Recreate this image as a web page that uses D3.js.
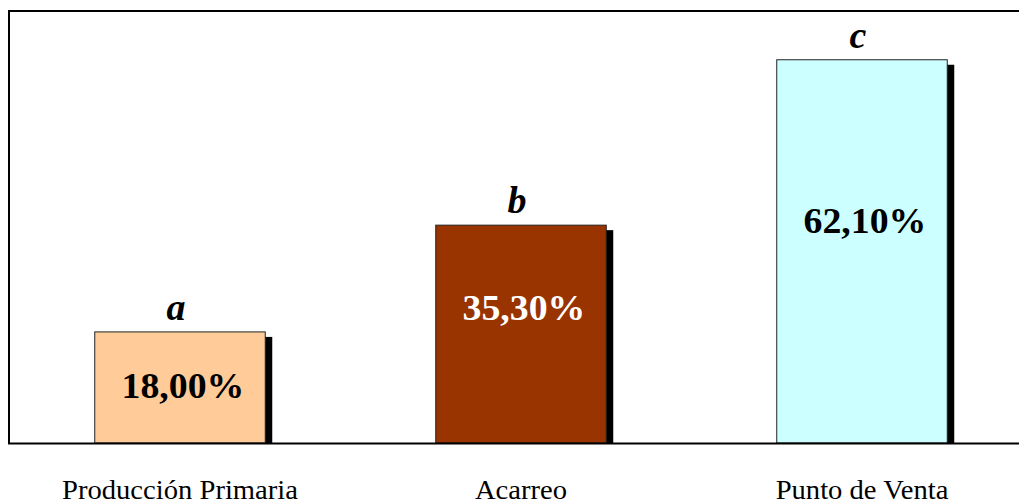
<!DOCTYPE html>
<html>
<head>
<meta charset="utf-8">
<script src="https://cdn.jsdelivr.net/npm/d3@7"></script>
<style>
  html, body { margin: 0; padding: 0; background: #fff; }
  svg { display: block; }
</style>
</head>
<body>
<svg id="chart" width="1019" height="504"></svg>
<script>
// Share of the final price captured at each stage of the chain (%)
const categories = ["Producción Primaria", "Acarreo", "Punto de Venta"];
const values = [18.0, 35.3, 62.1];
const groupLetters = ["a", "b", "c"];
const barColors = ["#FFCC99", "#993300", "#CCFFFF"];
const valueTextColors = ["#000", "#fff", "#000"];

// layout
const W = 1019, H = 504;
const plot = { left: 9.5, top: 11, bottom: 443, right: 9.5 + 3 * 341 };
const labelDepth = [66, 95, 173]; // baseline of value label below bar top
const shadow = { dx: 7, dy: 5 };

const svg = d3.select("#chart");

const x = d3.scaleBand()
  .domain(categories)
  .range([plot.left, plot.right])
  .paddingInner(0.5)
  .paddingOuter(0.25);

const y = d3.scaleLinear()
  .domain([0, 70])
  .range([plot.bottom, plot.top]);

const fmt = d3.formatLocale({ decimal: ",", thousands: ".", grouping: [3], currency: ["", "%"] })
  .format(".2f");

const data = categories.map((c, i) => ({
  cat: c, v: values[i], letter: groupLetters[i],
  color: barColors[i], tcolor: valueTextColors[i], depth: labelDepth[i]
}));

// bar shadows
svg.append("g").selectAll("rect")
  .data(data).join("rect")
  .attr("x", d => x(d.cat) + shadow.dx)
  .attr("y", d => y(d.v) + shadow.dy)
  .attr("width", x.bandwidth())
  .attr("height", d => plot.bottom - y(d.v) - shadow.dy)
  .attr("fill", "#000");

// bars
svg.append("g").selectAll("rect")
  .data(data).join("rect")
  .attr("x", d => x(d.cat))
  .attr("y", d => y(d.v))
  .attr("width", x.bandwidth())
  .attr("height", d => plot.bottom - y(d.v))
  .attr("fill", d => d.color)
  .attr("stroke", "#222")
  .attr("stroke-width", 1);

// plot frame: left and top edges, plus baseline
svg.append("line")
  .attr("x1", 9).attr("x2", 9).attr("y1", 10).attr("y2", 444)
  .attr("stroke", "#000").attr("stroke-width", 2);
svg.append("line")
  .attr("x1", 8).attr("x2", W).attr("y1", 11).attr("y2", 11)
  .attr("stroke", "#000").attr("stroke-width", 2);

const xAxis = svg.append("g")
  .attr("transform", `translate(0,${plot.bottom})`)
  .call(d3.axisBottom(x).tickSize(0).tickPadding(0));
xAxis.select(".domain").remove();
xAxis.append("line")
  .attr("x1", 8).attr("x2", W).attr("y1", 0.5).attr("y2", 0.5)
  .attr("stroke", "#000").attr("stroke-width", 2);
xAxis.selectAll(".tick text")
  .attr("y", 56)
  .attr("dy", 0)
  .attr("font-family", "'Liberation Serif', 'Times New Roman', serif")
  .attr("font-size", 27)
  .attr("fill", "#000")
  .style("transform", "scaleX(1.06)")
  .style("transform-box", "fill-box")
  .style("transform-origin", "center");

// value labels inside bars
svg.append("g").selectAll("text")
  .data(data).join("text")
  .attr("x", d => x(d.cat) + x.bandwidth() / 2 + 3)
  .attr("y", d => y(d.v) + d.depth)
  .attr("text-anchor", "middle")
  .attr("font-family", "'Liberation Serif', 'Times New Roman', serif")
  .attr("font-weight", "bold")
  .attr("font-size", 36)
  .attr("fill", d => d.tcolor)
  .style("transform", "scaleX(1.05)")
  .style("transform-box", "fill-box")
  .style("transform-origin", "center")
  .text(d => fmt(d.v) + "%");

// group letters above bars
svg.append("g").selectAll("text")
  .data(data).join("text")
  .attr("x", d => x(d.cat) + x.bandwidth() / 2 - 4)
  .attr("y", d => y(d.v) - 12)
  .attr("text-anchor", "middle")
  .attr("font-family", "'Liberation Serif', 'Times New Roman', serif")
  .attr("font-weight", "bold")
  .attr("font-style", "italic")
  .attr("font-size", 38)
  .attr("fill", "#000")
  .text(d => d.letter);
</script>
</body>
</html>
